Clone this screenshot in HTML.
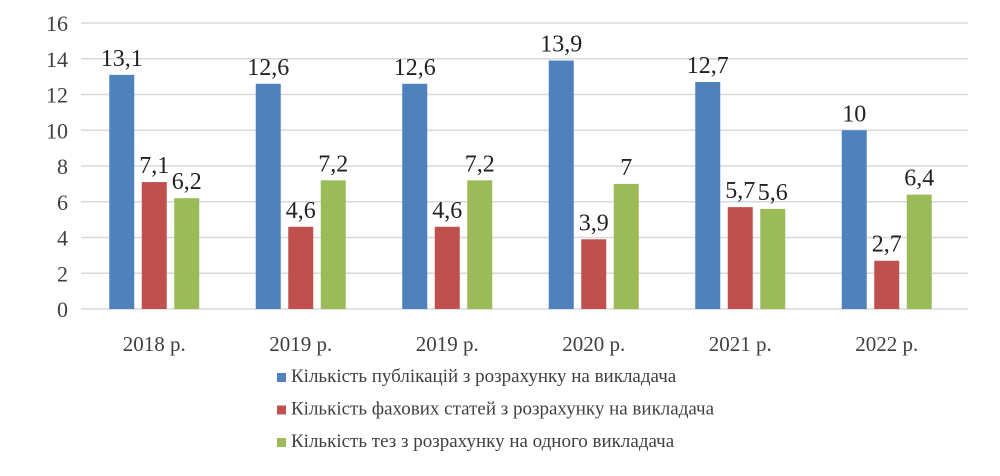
<!DOCTYPE html>
<html><head><meta charset="utf-8"><style>
body{margin:0;background:#fff;}
svg{display:block;font-family:"Liberation Serif",serif;}
</style></head><body>
<svg id="chart" width="1000" height="476" viewBox="0 0 1000 476"></svg>
<script>
const categories=["2018 р.","2019 р.","2019 р.","2020 р.","2021 р.","2022 р."];
const publications=[13.1,12.6,12.6,13.9,12.7,10];
const articles=[7.1,4.6,4.6,3.9,5.7,2.7];
const theses=[6.2,7.2,7.2,7,5.6,6.4];
const yTicks=[0,2,4,6,8,10,12,14,16];
const seriesNames=["Кількість публікацій з розрахунку на викладача","Кількість фахових статей з розрахунку на викладача","Кількість тез з розрахунку на одного викладача"];
const colors=["#4f81bd","#c0504d","#9bbb59"];
const series=[publications,articles,theses];
const svg=document.getElementById('chart');
const NS="http://www.w3.org/2000/svg";
const L=81,R=960,T=23,B=309;
const y=v=>B-(v/16)*(B-T);
const gw=(R-L)/categories.length;
const x=(i,s)=>L+gw*i+gw/2+(s-1)*32.5;
function mk(t,a){const e=document.createElementNS(NS,t);for(const k in a)e.setAttribute(k,a[k]);svg.appendChild(e);return e;}
yTicks.forEach(v=>{
 const g=mk('line',{x1:L,x2:R+8,y1:y(v),y2:y(v),stroke:'#d9d9d9','stroke-width':1.5});
 
 
 const t=mk('text',{x:68,y:y(v)+8,'text-anchor':'end','font-size':22,fill:'#404040'});
 t.textContent=v;
 
 
});
categories.forEach((c,i)=>{
 series.forEach((arr,s)=>{
  const cx=x(i,s);
  const r=mk('rect',{x:cx-12.5,y:y(arr[i]),width:25,height:B-y(arr[i]),fill:colors[s]});
  
  
  const t=mk('text',{x:cx,y:y(arr[i])-9,'text-anchor':'middle','font-size':24,fill:'#222'});
  t.textContent=String(arr[i]).replace('.',',');
  
  
 });
 const t=mk('text',{x:L+gw*i+gw/2,y:351,'text-anchor':'middle','font-size':21,fill:'#404040'});
 t.textContent=c;
 
 
});
seriesNames.forEach((n,s)=>{
 const yy=382+s*32.5;
 const r=mk('rect',{x:277,y:yy-9,width:9,height:9,fill:colors[s]});
 
 
 const t=mk('text',{x:291,y:yy,'font-size':19,fill:'#404040'});
 t.textContent=n;
 
 
});
</script>
</body></html>
